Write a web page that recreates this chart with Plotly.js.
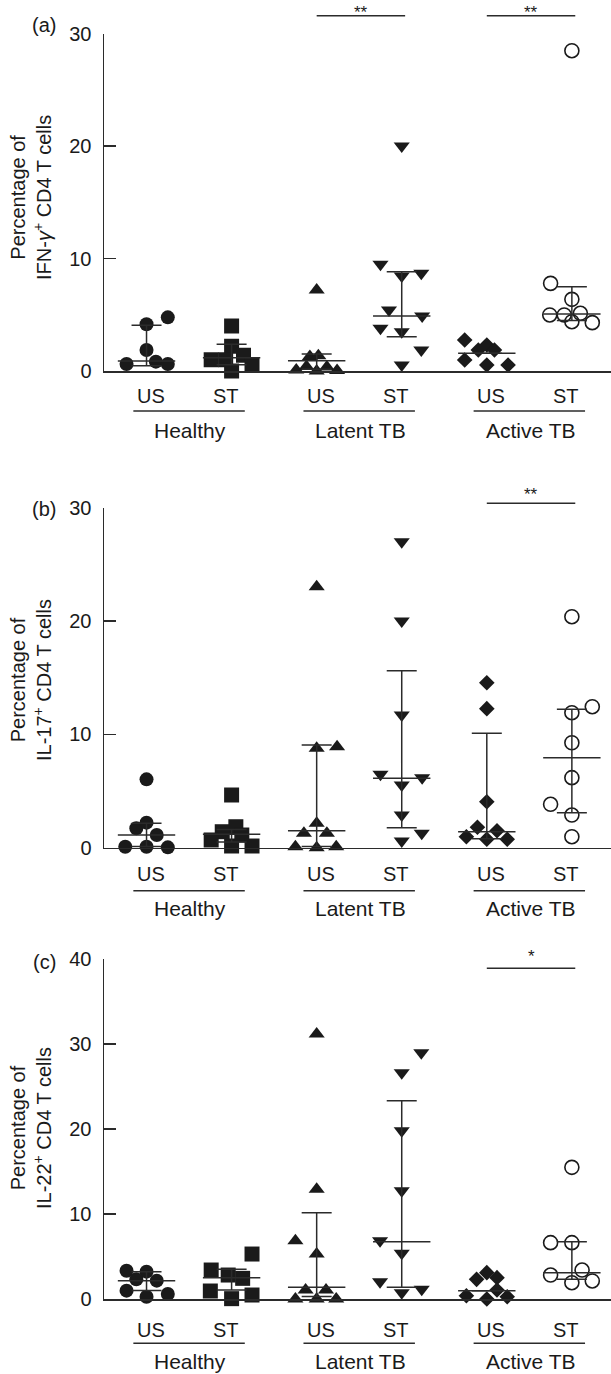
<!DOCTYPE html>
<html>
<head>
<meta charset="utf-8">
<script src="https://cdn.plot.ly/plotly-3.0.1.min.js"></script>
<style>html,body{margin:0;padding:0;background:#fff}</style>
</head>
<body>
<div id="chart" style="width:611px;height:1374px"></div>
<script>
// ---------- data ----------
const conditions = ['US', 'ST', 'US', 'ST', 'US', 'ST'];
const groupNames = ['Healthy', 'Latent TB', 'Active TB'];
const categoryPos = [1, 2, 3, 4, 5, 6];

// (a) IFN-γ+ CD4 T cells (%)
const ifnValues = [
  [0.62, 4.15, 4.77, 1.87, 0.83, 0.62],
  [4.0, 2.2, 1.4, 1.0, 1.0, 0.55, 0.0],
  [7.2, 1.3, 1.35, 0.1, 0.4, 0.35, 0.0, 0.05],
  [20.0, 9.48, 8.44, 8.68, 5.42, 4.89, 3.79, 3.5, 1.87, 0.53],
  [2.76, 2.31, 1.87, 1.87, 0.98, 0.53, 0.53],
  [28.47, 7.79, 6.37, 4.98, 4.98, 5.13, 4.38, 4.3]
];
const ifnJitter = [
  [-0.235, 0, 0.25, 0, 0.11, 0.25],
  [0, 0, 0.14, -0.24, -0.07, 0.24, 0],
  [0, -0.08, 0.02, -0.24, -0.12, 0.12, 0, 0.24],
  [0, -0.25, 0, 0.23, -0.15, 0.24, -0.25, 0, 0.23, 0],
  [-0.26, 0, -0.1, 0.09, -0.26, 0, 0.25],
  [0, -0.25, 0, -0.26, -0.09, 0.1, 0, 0.24]
];
const ifnMedian = [0.89, 1.18, 0.92, 4.89, 1.57, 5.07];
const ifnQ1 = [0.47, 0.55, 0.15, 3.05, 1.57, 4.5];
const ifnQ3 = [4.07, 2.37, 1.51, 8.83, 1.57, 7.5];
const ifnSigPairs = [[3, 4], [5, 6]];
const ifnSigLabels = ['**', '**'];

// (b) IL-17+ CD4 T cells (%)
const il17Values = [
  [6.03, 1.71, 2.21, 1.12, 0.09, 0.09, 0.03],
  [4.65, 1.85, 1.41, 1.12, 0.68, 0.15, 0.15],
  [23.03, 8.77, 8.91, 2.15, 1.27, 1.27, 0.09, 0.0, 0.09],
  [27.0, 20.0, 11.71, 6.47, 6.18, 5.53, 2.88, 1.27, 0.59],
  [14.56, 12.27, 4.06, 1.8, 1.5, 0.97, 0.74, 0.74],
  [20.38, 12.44, 11.91, 9.26, 6.18, 3.83, 2.88, 0.97]
];
const il17Jitter = [
  [0, -0.12, 0, 0.12, -0.25, 0, 0.25],
  [0, 0.05, -0.11, 0.12, -0.24, 0, 0.24],
  [0, 0, 0.24, 0, -0.15, 0.12, -0.25, 0, 0.23],
  [0, 0, 0, -0.25, 0.24, 0, 0, 0.235, 0],
  [0, 0, 0, -0.11, 0.12, -0.24, 0, 0.24],
  [0, 0.24, 0, 0, 0, -0.25, 0, 0]
];
const il17Median = [1.12, 1.18, 1.5, 6.12, 1.41, 7.94];
const il17Q1 = [0.1, 0.5, 0.1, 1.77, 0.8, 3.09];
const il17Q3 = [2.15, 1.6, 9.06, 15.62, 10.09, 12.21];
const il17SigPairs = [[5, 6]];
const il17SigLabels = ['**'];

// (c) IL-22+ CD4 T cells (%)
const il22Values = [
  [3.33, 3.22, 2.31, 2.16, 0.98, 0.27, 0.59],
  [5.29, 3.41, 2.82, 2.43, 0.94, 0.47, 0.04],
  [31.18, 12.9, 6.86, 5.29, 1.06, 1.06, 0.0, 0.0, 0.0],
  [28.98, 26.63, 19.8, 12.74, 6.86, 5.37, 2.04, 1.14, 0.75],
  [3.1, 2.31, 2.51, 1.06, 0.39, 0.0, 0.27],
  [15.49, 6.63, 6.63, 3.41, 2.82, 1.92, 2.12]
];
const il22Jitter = [
  [-0.235, 0, -0.12, 0.12, -0.235, 0, 0.25],
  [0.24, -0.24, -0.04, 0.13, -0.25, 0.24, 0],
  [0, 0, -0.25, 0, -0.13, 0.11, -0.25, 0, 0.23],
  [0.23, 0, 0, 0, -0.255, 0, -0.255, 0.235, 0],
  [0, -0.12, 0.12, 0.12, -0.24, 0, 0.24],
  [0, -0.25, 0, 0.12, -0.25, 0, 0.24]
];
const il22Median = [2.16, 2.51, 1.37, 6.75, 0.98, 3.1];
const il22Q1 = [1.0, 1.06, 0.3, 1.37, 0.98, 2.31];
const il22Q3 = [3.22, 3.49, 10.16, 23.33, 0.98, 6.75];
const il22SigPairs = [[5, 6]];
const il22SigLabels = ['*'];

const yTitles = [
  'Percentage of<br>IFN-<i>γ</i><sup>+</sup> CD4 T cells',
  'Percentage of<br>IL-17<sup>+</sup> CD4 T cells',
  'Percentage of<br>IL-22<sup>+</sup> CD4 T cells'
];
const panelTags = ['(a)', '(b)', '(c)'];
const yMax = [30, 30, 40];

// ---------- styling / layout ----------
const W = 611, H = 1374, LEFT = 104;
const FONT = 'Liberation Sans, Arial, Helvetica, sans-serif';
const INK = '#1a1a1a', AX = '#2b2b2b';
const symbols = ['circle', 'square', 'triangle-up', 'triangle-down', 'diamond', 'circle'];
const hollow = [false, false, false, false, false, true];
const sizes = [14, 15, 14, 14, 12, 14];

const geo = [
  {top: 33.5, bottom: 371, tag: 25, sigBar: 15.7, sigText: 12.5, cond: 396, line: 411, group: 430, title: 198},
  {top: 507.7, bottom: 847.7, tag: 509, sigBar: 503.3, sigText: 494, cond: 874, line: 890.7, group: 908, title: 680},
  {top: 959, bottom: 1299, tag: 961.5, sigBar: 968.3, sigText: 956, cond: 1329.5, line: 1343.3, group: 1361, title: 1128}
];
const py = p => (H - p) / H;
const px = p => (p - LEFT) / (W - LEFT);

const panelData = [
  {values: ifnValues, jitter: ifnJitter, med: ifnMedian, q1: ifnQ1, q3: ifnQ3, sig: ifnSigPairs, sigLab: ifnSigLabels},
  {values: il17Values, jitter: il17Jitter, med: il17Median, q1: il17Q1, q3: il17Q3, sig: il17SigPairs, sigLab: il17SigLabels},
  {values: il22Values, jitter: il22Jitter, med: il22Median, q1: il22Q1, q3: il22Q3, sig: il22SigPairs, sigLab: il22SigLabels}
];

const traces = [];
const shapes = [];
const annotations = [];
const layout = {
  width: W, height: H,
  margin: {l: LEFT, r: 0, t: 0, b: 0, pad: 0},
  paper_bgcolor: '#fff', plot_bgcolor: 'rgba(0,0,0,0)',
  showlegend: false,
  font: {family: FONT, color: INK, size: 20}
};

panelData.forEach((pd, p) => {
  const n = p + 1;
  const xa = n === 1 ? 'x' : 'x' + n;
  const ya = n === 1 ? 'y' : 'y' + n;
  const xKey = n === 1 ? 'xaxis' : 'xaxis' + n;
  const yKey = n === 1 ? 'yaxis' : 'yaxis' + n;
  const g = geo[p];

  layout[xKey] = {
    domain: [0, 1], anchor: ya, range: [0.5, 6.46], fixedrange: true,
    showline: true, linecolor: AX, linewidth: 1.5,
    showgrid: false, zeroline: false, ticks: '', showticklabels: false
  };
  const tv = [];
  for (let v = 0; v <= yMax[p]; v += 10) tv.push(v);
  layout[yKey] = {
    domain: [py(g.bottom), py(g.top)], anchor: xa, range: [0, yMax[p]],
    fixedrange: true, showline: true, linecolor: AX, linewidth: 1.5,
    showgrid: false, zeroline: false,
    ticks: 'inside', ticklen: 12, tickwidth: 1.5, tickcolor: AX,
    tickvals: tv, ticktext: tv.map(String),
    tickfont: {family: FONT, size: 20, color: INK},
    ticklabelstandoff: 7
  };

  // points
  pd.values.forEach((vals, i) => {
    traces.push({
      type: 'scatter', mode: 'markers', xaxis: xa, yaxis: ya, cliponaxis: false,
      x: vals.map((v, k) => categoryPos[i] + pd.jitter[i][k]),
      y: vals,
      marker: {
        symbol: symbols[i], size: sizes[i],
        color: hollow[i] ? 'rgba(255,255,255,0)' : INK,
        line: {width: hollow[i] ? 1.6 : 0, color: INK}
      },
      hoverinfo: 'y'
    });
  });

  // median + interquartile range
  traces.push({
    type: 'scatter', mode: 'markers', xaxis: xa, yaxis: ya, cliponaxis: false,
    x: categoryPos, y: pd.med,
    marker: {symbol: 'line-ew', size: 41, color: AX, line: {width: 1.5, color: AX}},
    error_y: {
      type: 'data', symmetric: false,
      array: pd.q3.map((q, i) => q - pd.med[i]),
      arrayminus: pd.q1.map((q, i) => pd.med[i] - q),
      width: 15, thickness: 1.5, color: AX
    },
    hoverinfo: 'y'
  });

  // significance bars
  pd.sig.forEach((pair, s) => {
    shapes.push({type: 'line', xref: xa, yref: 'paper',
      x0: pair[0], x1: pair[1] + 0.04, y0: py(g.sigBar), y1: py(g.sigBar),
      line: {color: AX, width: 1.5}});
    annotations.push({xref: xa, yref: 'paper', x: (pair[0] + pair[1]) / 2 + 0.02, y: py(g.sigText),
      text: pd.sigLab[s], showarrow: false, xanchor: 'center', yanchor: 'middle',
      font: {family: FONT, size: 17, color: INK}});
  });

  // condition labels
  conditions.forEach((c, i) => {
    annotations.push({xref: xa, yref: 'paper', x: categoryPos[i], y: py(g.cond),
      xshift: c === 'US' ? 4 : -6,
      text: c, showarrow: false, xanchor: 'center', yanchor: 'middle',
      font: {family: FONT, size: 20, color: INK}});
  });
  // group labels and lines
  groupNames.forEach((gn, j) => {
    const center = (categoryPos[2 * j] + categoryPos[2 * j + 1]) / 2;
    shapes.push({type: 'line', xref: xa, yref: 'paper',
      x0: center - 0.655, x1: center + 0.655, y0: py(g.line), y1: py(g.line),
      line: {color: AX, width: 1.5}});
    annotations.push({xref: xa, yref: 'paper', x: center, y: py(g.group), xshift: 1,
      text: gn, showarrow: false, xanchor: 'center', yanchor: 'middle',
      font: {family: FONT, size: 21, color: INK}});
  });

  // panel tag and y title
  annotations.push({xref: 'paper', yref: 'paper', x: px(44), y: py(g.tag),
    text: panelTags[p], showarrow: false, xanchor: 'center', yanchor: 'middle',
    font: {family: FONT, size: 20, color: INK}});
  annotations.push({xref: 'paper', yref: 'paper', x: px(31), y: py(g.title),
    text: yTitles[p], textangle: -90, showarrow: false, xanchor: 'center', yanchor: 'middle',
    font: {family: FONT, size: 20, color: INK}});
});

layout.shapes = shapes;
layout.annotations = annotations;

Plotly.newPlot('chart', traces, layout, {displayModeBar: false, staticPlot: true});
</script>
</body>
</html>
